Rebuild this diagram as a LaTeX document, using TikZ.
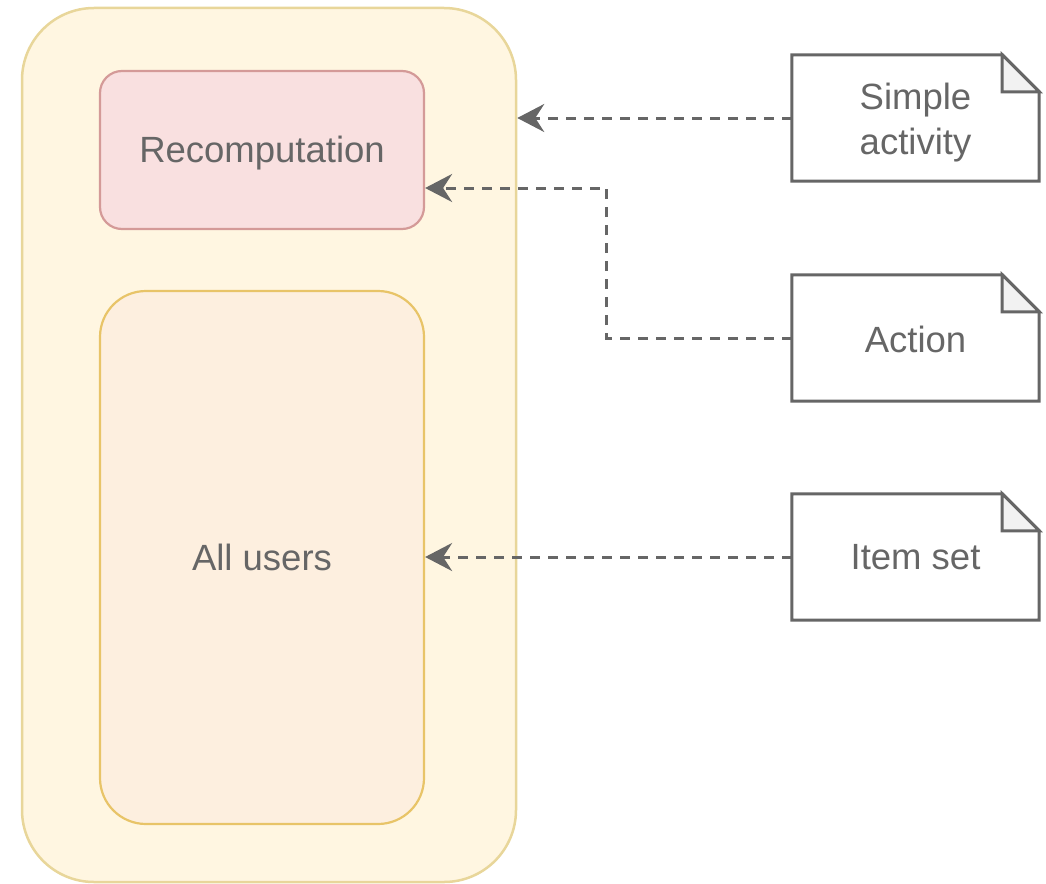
\documentclass[tikz,border=0pt]{standalone}
\usepackage{fontspec}
\setmainfont{Liberation Sans}
\usetikzlibrary{arrows.meta}
\definecolor{txtgray}{HTML}{666666}
\definecolor{outerfill}{HTML}{FFF6E1}
\definecolor{outerdraw}{HTML}{E8D69A}
\definecolor{recfill}{HTML}{F9E0E0}
\definecolor{recdraw}{HTML}{D49A98}
\definecolor{usrfill}{HTML}{FDEFDF}
\definecolor{usrdraw}{HTML}{E8C468}
\definecolor{foldfill}{HTML}{F2F2F2}
\tikzset{
  lbl/.style={text=txtgray, font=\fontsize{36.5}{45}\selectfont, align=center},
  outerbox/.style={draw=outerdraw, fill=outerfill, line width=2.5pt, rounded corners=72pt, minimum width=494pt, minimum height=874pt},
  recbox/.style={draw=recdraw, fill=recfill, line width=2.2pt, rounded corners=22pt, minimum width=324pt, minimum height=158pt},
  usrbox/.style={lbl, draw=usrdraw, fill=usrfill, line width=2.2pt, rounded corners=46pt, minimum width=324pt, minimum height=533pt},
  notebox/.style={lbl, minimum width=247pt, minimum height=126pt, inner sep=0pt},
  noteline/.style={draw=txtgray, line width=3pt, line join=miter},
  dasharrow/.style={draw=txtgray, line width=3pt, dash pattern=on 10pt off 8pt, -{Stealth[length=27pt, width=28pt, inset=9pt]}}
}
\newcommand{\drawnote}[1]{%
  \draw[noteline, fill=white] (#1.north west) -- ([xshift=-37pt]#1.north east) -- ([yshift=-37pt]#1.north east) -- (#1.south east) -- (#1.south west) -- cycle;
  \draw[noteline, fill=foldfill] ([xshift=-37pt]#1.north east) -- ([yshift=-37pt]#1.north east) -- ([xshift=-37pt,yshift=-37pt]#1.north east) -- cycle;
}
\begin{document}
\begin{tikzpicture}[x=1pt, y=-1pt]
\useasboundingbox (0,0) rectangle (1046,883);
\node[outerbox] (outer) at (269,445) {};
\node[recbox] (rec) at (262,150) {};
\node[lbl] (rectxt) at (262,153) {Recomputation};
\node[usrbox] (usr) at (262,557.5) {All users};
\node[notebox] (sa) at (915.5,118) {};
\node[notebox] (act) at (915.5,338) {};
\node[notebox] (is) at (915.5,557) {};
\drawnote{sa}
\drawnote{act}
\drawnote{is}
\node[lbl] (satxt) at ([yshift=-5pt]sa.center) {Simple\\activity};
\node[lbl] (acttxt) at ([yshift=-1pt]act.center) {Action};
\node[lbl] (istxt) at (is.center) {Item set};
\coordinate (recin) at ([yshift=-38pt]rec.east);
\draw[dasharrow] (sa.west) -- (sa.west -| outer.east);
\draw[dasharrow] (act.west) -- ++(-185,0) |- (recin);
\draw[dasharrow] (is.west) -- (is.west -| usr.east);
\end{tikzpicture}
\end{document}
